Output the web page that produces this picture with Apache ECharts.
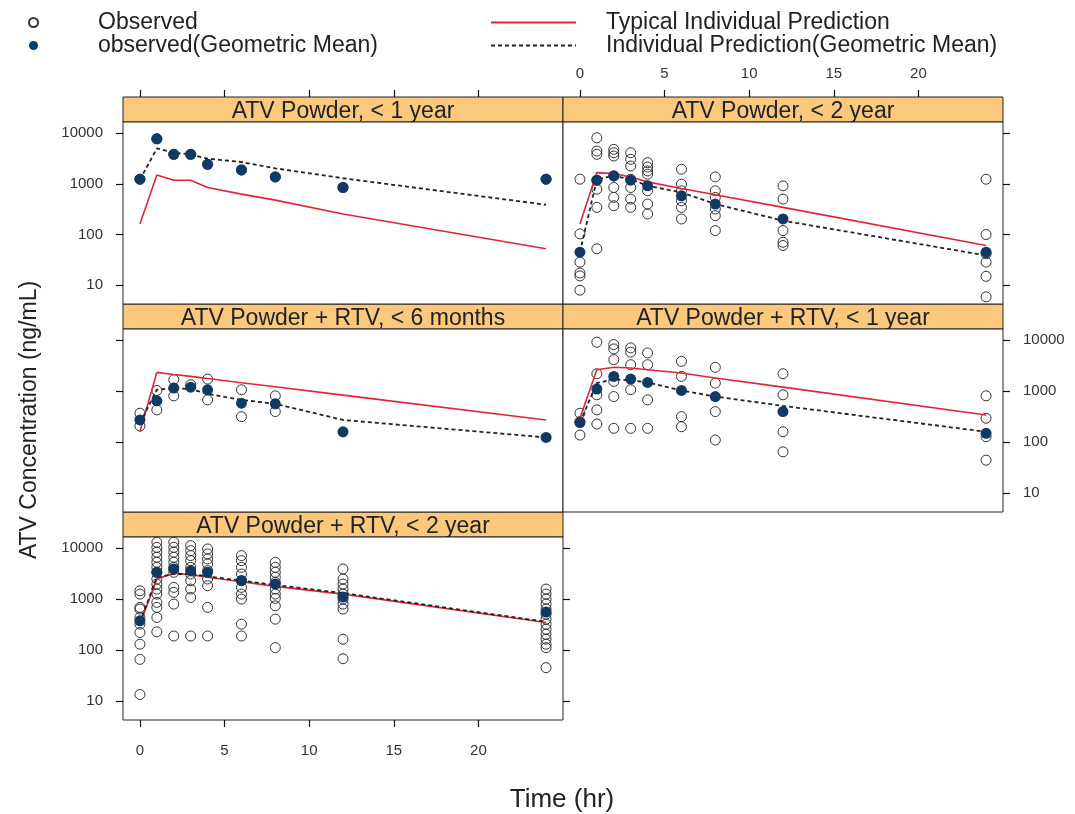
<!DOCTYPE html>
<html>
<head>
<meta charset="utf-8">
<title>ATV concentration vs time</title>
<script src="https://cdn.jsdelivr.net/npm/echarts@6/dist/echarts.min.js"></script>
<style>
  html, body { margin: 0; padding: 0; background: #fff; }
  #chart { width: 1075px; height: 814px; }
</style>
</head>
<body>
<div id="chart"></div>
<script>
// sampling times (hr), shared by every panel
var times = [0, 1, 2, 3, 4, 6, 8, 12, 24];
var panelTitles = [
  'ATV Powder, < 1 year',
  'ATV Powder, < 2 year',
  'ATV Powder + RTV, < 6 months',
  'ATV Powder + RTV, < 1 year',
  'ATV Powder + RTV, < 2 year'
];
var xTicks = [0, 5, 10, 15, 20];
var yTicks = [10, 100, 1000, 10000];

// observed concentrations (ng/mL), one list per sampling time
var obs1 = [[1236], [7730], [3820], [3820], [2430], [1880], [1370], [848], [1236]];
var obs2 = [
  [1236, 103, 28.6, 17.4, 15.3, 8.0],
  [8100, 4440, 3820, 1180, 787, 344, 52.4],
  [4790, 4110, 3540, 1436, 848, 540, 371],
  [4110, 3050, 2250, 1236, 848, 501, 344],
  [2620, 2150, 1800, 1550, 730, 400, 255],
  [1940, 986, 730, 464, 344, 203],
  [1370, 730, 540, 319, 236, 120],
  [914, 501, 120, 70.6, 60.8],
  [1236, 100, 41.8, 28.6, 15, 5.9]
];
var obs3 = [[370, 208], [1033, 430], [1680, 811], [1340], [1730, 676], [1067, 317], [811, 398], [], []];
var obs4 = [
  [370, 254, 138],
  [9140, 2200, 849, 430, 227],
  [8220, 6760, 4160, 1556, 785, 187],
  [7080, 5820, 3310, 1067, 187],
  [5640, 3310, 676, 187],
  [3850, 1950, 317, 201],
  [2940, 1443, 398, 110],
  [2200, 849, 160, 64.7],
  [811, 295, 128, 44.4]
];
var obs5 = [
  [1462, 1258, 690, 640, 438, 324, 222, 131, 66, 13.5],
  [13100, 10400, 8370, 6640, 5290, 4220, 3370, 2490, 1980, 1580, 1260, 865, 690, 438, 229],
  [13100, 10400, 8370, 6640, 5290, 4220, 3370, 1706, 1360, 802, 190],
  [11250, 8970, 7160, 5710, 4220, 3120, 2310, 1580, 1083, 190],
  [9680, 7730, 6150, 4910, 3630, 2490, 1840, 690, 190],
  [7160, 5710, 4220, 3120, 2310, 1706, 1260, 1005, 324, 190],
  [5290, 4220, 3370, 2690, 2140, 1580, 1260, 1038, 741, 406, 112],
  [3920, 2490, 1980, 1580, 1260, 1005, 802, 640, 164, 68],
  [1580, 1260, 1005, 802, 640, 509, 406, 324, 258, 205, 164, 131, 112, 45.4]
];

// observed geometric means
var gm1 = [1236, 7730, 3820, 3820, 2430, 1880, 1370, 848, 1236];
var gm2 = [45, 1180, 1436, 1180, 914, 582, 400, 203, 45];
var gm3 = [273, 647, 1151, 1202, 1067, 582, 565, 160, 124];
var gm4 = [242, 1099, 1950, 1730, 1487, 1033, 785, 398, 149];
var gm5 = [377, 3370, 3920, 3630, 3370, 2310, 1980, 1100, 560];

// typical individual prediction (red)
var pred1 = [162, 1500, 1180, 1180, 848, 627, 478, 254, 52.5];
var pred2 = [162, 1667, 1592, 1370, 1094, 809, 608, 344, 60.8];
var pred3 = [160, 2340, 2133, 1950, 1780, 1462, 1220, 836, 273];
var pred4 = [295, 2640, 2940, 2850, 2640, 2275, 1810, 1200, 342];
var pred5 = [324, 2490, 3220, 3030, 2690, 2200, 1786, 1260, 349];

// individual prediction, geometric mean (dashed)
var ipred1 = [1200, 5000, 4110, 3820, 3140, 2700, 2030, 1290, 387];
var ipred2 = [45, 1236, 1436, 1236, 914, 677, 400, 188, 38.7];
var ipred3 = [235, 1067, 1151, 1100, 889, 676, 565, 273, 124];
var ipred4 = [242, 1443, 1700, 1650, 1487, 1033, 785, 515, 160];
var ipred5 = [349, 2690, 3120, 3120, 2810, 2310, 1898, 1318, 360];

var obsAll = [obs1, obs2, obs3, obs4, obs5];
var gmAll = [gm1, gm2, gm3, gm4, gm5];
var predAll = [pred1, pred2, pred3, pred4, pred5];
var ipredAll = [ipred1, ipred2, ipred3, ipred4, ipred5];

var FONT = "'Liberation Sans', Arial, sans-serif";
var INK = '#222';
var STRIP = '#fcc87c';
var W = 440, STRIP_H = 25;
var Y_MIN = 4.27, Y_MAX = 16600;

// panel cells (plot area, strip sits on top)
var cells = [
  { left: 123, top: 122, h: 182 },
  { left: 563, top: 122, h: 182 },
  { left: 123, top: 329, h: 183 },
  { left: 563, top: 329, h: 183 },
  { left: 123, top: 537, h: 183 }
];
// which sides get ticks / labels (lattice alternating style)
var xSide = [
  { pos: 'top', ticks: true, labels: false },
  { pos: 'top', ticks: true, labels: true },
  { pos: 'bottom', ticks: false, labels: false },
  { pos: 'bottom', ticks: false, labels: false },
  { pos: 'bottom', ticks: true, labels: true }
];
var ySide = [
  { pos: 'left', labels: true },
  { pos: 'right', labels: false },
  { pos: 'left', labels: false },
  { pos: 'right', labels: true },
  { pos: 'left', labels: true }
];

function pairs(vals) {
  return times.map(function (t, i) { return [t, vals[i]]; });
}
function obsPairs(lists) {
  var out = [];
  lists.forEach(function (l, i) {
    l.forEach(function (v) { out.push([times[i], v]); });
  });
  return out;
}

var labelStyle = { color: '#333', fontSize: 15, fontFamily: FONT };
var tickStyle = { color: '#111', width: 1.2 };

function makeX(i, s) {
  return {
    type: 'value', gridIndex: i, min: -1, max: 25, position: s.pos,
    offset: s.pos === 'top' ? STRIP_H : 0,
    axisLine: { show: false, onZero: false },
    splitLine: { show: false },
    axisTick: { show: s.ticks, inside: false, length: 7, customValues: xTicks, lineStyle: tickStyle },
    axisLabel: Object.assign({ show: s.labels, customValues: xTicks, margin: s.pos === 'top' ? 16 : 23 }, labelStyle)
  };
}
function makeY(i, s) {
  return {
    type: 'log', logBase: 10, gridIndex: i, min: Y_MIN, max: Y_MAX, position: s.pos,
    axisLine: { show: false, onZero: false },
    splitLine: { show: false },
    minorTick: { show: false },
    axisTick: { show: true, inside: false, length: 7, customValues: yTicks, lineStyle: tickStyle },
    axisLabel: Object.assign({
      show: s.labels, customValues: yTicks, margin: 20,
      formatter: function (v) { return String(Math.round(v)); }
    }, labelStyle)
  };
}

var grids = cells.map(function (c) {
  return {
    left: c.left, top: c.top, width: W, height: c.h,
    show: true, borderColor: INK, borderWidth: 1, backgroundColor: '#fff',
    containLabel: false, outerBoundsMode: 'none'
  };
});
var xAxes = xSide.map(function (s, i) { return makeX(i, s); });
var yAxes = ySide.map(function (s, i) { return makeY(i, s); });
yAxes.push(makeY(4, { pos: 'right', labels: false }));  // extra right ticks on last panel

var series = [];
for (var p = 0; p < 5; p++) {
  series.push({
    name: 'Observed', type: 'scatter', xAxisIndex: p, yAxisIndex: p,
    symbol: 'circle', symbolSize: 10, z: 2,
    itemStyle: { color: 'rgba(255,255,255,0)', borderColor: '#333', borderWidth: 1, opacity: 1 },
    data: obsPairs(obsAll[p])
  });
  series.push({
    name: 'Typical Individual Prediction', type: 'line', xAxisIndex: p, yAxisIndex: p,
    symbol: 'none', z: 3,
    lineStyle: { color: '#e3262d', width: 1.6 }, itemStyle: { color: '#e3262d' },
    data: pairs(predAll[p])
  });
  series.push({
    name: 'Individual Prediction(Geometric Mean)', type: 'line', xAxisIndex: p, yAxisIndex: p,
    symbol: 'none', z: 3,
    lineStyle: { color: INK, width: 1.8, type: [4, 3] }, itemStyle: { color: INK },
    data: pairs(ipredAll[p])
  });
  series.push({
    name: 'observed(Geometric Mean)', type: 'scatter', xAxisIndex: p, yAxisIndex: p,
    symbol: 'circle', symbolSize: 11, z: 4,
    itemStyle: { color: '#0f3a66', opacity: 1 },
    data: pairs(gmAll[p])
  });
}

// strips sit below the grids so that descenders get cut by the plot area
var graphics = [];
panelTitles.forEach(function (t, i) {
  var c = cells[i];
  graphics.push({
    type: 'rect', z: -2,
    shape: { x: c.left, y: c.top - STRIP_H, width: W, height: STRIP_H },
    style: { fill: STRIP, stroke: INK, lineWidth: 1 }
  });
  graphics.push({
    type: 'text', z: -1, x: c.left + W / 2, y: c.top - STRIP_H / 2 + 2,
    style: { text: t, fill: INK, font: '23px ' + FONT, align: 'center', verticalAlign: 'middle' }
  });
});
graphics.push({
  type: 'text', x: 30, y: 420, rotation: Math.PI / 2,
  style: { text: 'ATV Concentration (ng/mL)', fill: INK, font: '23px ' + FONT, align: 'center', verticalAlign: 'middle' }
});
graphics.push({
  type: 'text', x: 562, y: 800,
  style: { text: 'Time (hr)', fill: INK, font: '26px ' + FONT, align: 'center', verticalAlign: 'middle' }
});

var legendText = { fontSize: 23, fontFamily: FONT, color: INK };

var option = {
  animation: false,
  backgroundColor: '#fff',
  legend: [
    {
      data: ['Observed', 'observed(Geometric Mean)'],
      orient: 'vertical', left: 23, top: 6, itemWidth: 9, itemHeight: 9, itemGap: 0,
      selectedMode: false,
      textStyle: Object.assign({ padding: [0, 0, 0, 55] }, legendText)
    },
    {
      data: ['Typical Individual Prediction', 'Individual Prediction(Geometric Mean)'],
      orient: 'vertical', left: 485, top: 6, itemWidth: 85, itemHeight: 9, itemGap: 0,
      selectedMode: false,
      itemStyle: { opacity: 0 },
      textStyle: Object.assign({ padding: [0, 0, 0, 25] }, legendText)
    }
  ],
  grid: grids,
  xAxis: xAxes,
  yAxis: yAxes,
  series: series,
  graphic: graphics
};

var chart = echarts.init(document.getElementById('chart'), null, { renderer: 'canvas' });
chart.setOption(option);
</script>
</body>
</html>
